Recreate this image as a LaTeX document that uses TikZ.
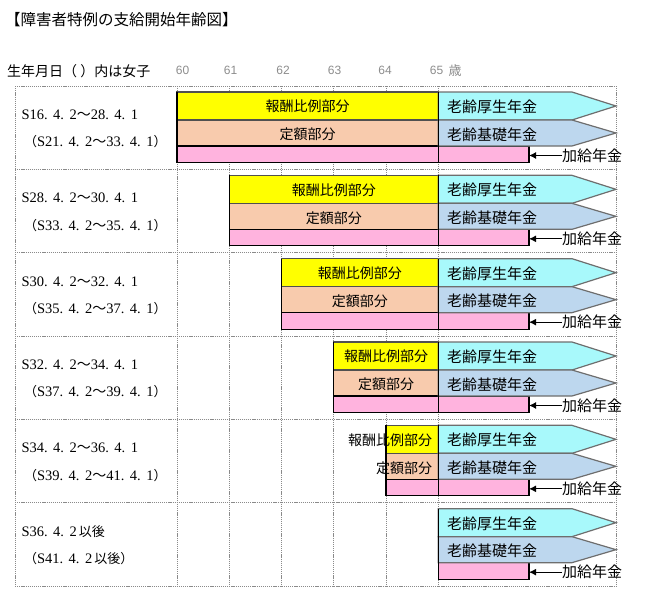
\documentclass[tikz,border=0pt]{standalone}
\usepackage{fontspec}
\setmainfont{Noto Sans CJK JP}
\newfontfamily\latf{Liberation Sans}
\newfontfamily\serf{Liberation Serif}
\usetikzlibrary{arrows.meta}
\definecolor{yel}{HTML}{FFFF00}
\definecolor{pea}{HTML}{F8CBAD}
\definecolor{pnk}{HTML}{FFB3DE}
\definecolor{cya}{HTML}{A8F9FB}
\definecolor{blu}{HTML}{BDD7EE}
\definecolor{gridc}{HTML}{8A8A8A}
\definecolor{numc}{HTML}{8C8C8C}
\definecolor{barline}{HTML}{505050}
\definecolor{pentline}{HTML}{6E6E6E}
\newcommand\pdt{{\serf .}\hspace{5.5pt}}
\newcommand\tld{{\fontsize{14}{14}\selectfont ～}}
\newcommand\dl[6]{{\serf S#1}\pdt{\serf #2}\pdt{\serf #3}\tld{\serf #4}\pdt{\serf #5}\pdt{\serf #6}}
\tikzset{
  gridline/.style={draw=gridc, line width=0.8pt, dash pattern=on 1.2pt off 0.9pt},
  txt/.style={inner sep=0pt, outer sep=0pt, font=\fontsize{14}{14}\selectfont},
  ptxt/.style={inner sep=0pt, outer sep=0pt, anchor=west, font=\fontsize{15}{15}\selectfont},
  lab/.style={inner sep=0pt, outer sep=0pt, anchor=west, font=\fontsize{14.5}{15}\selectfont},
  yearlab/.style={inner sep=0pt, text=numc, font=\latf\fontsize{12}{12}\selectfont},
  ybar/.style={fill=yel, draw=barline, line width=1.2pt},
  pbar/.style={fill=pea, draw=barline, line width=1.2pt},
  pinkbar/.style={fill=pnk, draw=black, line width=1.2pt, inner sep=0pt, outer sep=0pt, anchor=north west, minimum height=16.5pt},
  cpent/.style={fill=cya, draw=pentline, line width=1.2pt, line join=miter},
  bpent/.style={fill=blu, draw=pentline, line width=1.2pt, line join=miter},
  arr/.style={-{Latex[length=7pt,width=7pt]}, line width=1.2pt, black}
}
\begin{document}
\begin{tikzpicture}[x=1pt,y=-1pt]
\useasboundingbox (0,0) rectangle (653,610);
% title and header
\node[anchor=west, inner sep=0pt, font=\fontsize{15.5}{16}\selectfont] (title) at (5,19.3) {【障害者特例の支給開始年齢図】};
\node[anchor=west, inner sep=0pt, font=\fontsize{14}{14}\selectfont] (hdr) at (7,71) {生年月日（ ）内は女子};
\node[yearlab] (y60) at (182.5,70.5) {60};
\node[yearlab] (y61) at (230.5,70.5) {61};
\node[yearlab] (y62) at (283,70.5) {62};
\node[yearlab] (y63) at (334.5,70.5) {63};
\node[yearlab] (y64) at (385,70.5) {64};
\node[yearlab] (y65) at (436.5,70.5) {65};
\node[inner sep=0pt, text=numc, font=\fontsize{13}{13}\selectfont] (sai) at (455,70.5) {歳};
% grid
\foreach \r in {0,...,6} {
  \pgfmathsetmacro\yy{86+83.333*\r}
  \draw[gridline] (15,\yy) -- (616,\yy);
}
\foreach \xx in {15,177,229.3,281.5,333.8,386,438.3,616} {
  \draw[gridline] (\xx,86) -- (\xx,586);
}
% rows 1-5
\foreach \k/\a/\b/\c/\d in {1/16/28/21/33, 2/28/30/33/35, 3/30/32/35/37, 4/32/34/37/39, 5/34/36/39/41} {
  \pgfmathsetmacro\T{86+83.333*(\k-1)}
  \pgfmathsetmacro\S{177+52.26*(\k-1)}
  \pgfmathsetmacro\W{529-\S}
  \pgfmathsetmacro\M{(\S+438.3)/2}
  \draw[ybar] (\S,\T+6) rectangle (438.3,\T+34);
  \draw[pbar] (\S,\T+34) rectangle (438.3,\T+60);
  \node[pinkbar, minimum width=\W pt] (pk\k) at (\S,\T+60) {};
  \draw[cpent] (438.3,\T+6) -- (572,\T+6) -- (616,\T+20) -- (572,\T+34) -- (438.3,\T+34) -- cycle;
  \draw[bpent] (438.3,\T+34) -- (572,\T+34) -- (616,\T+47) -- (572,\T+60) -- (438.3,\T+60) -- cycle;
  \draw[black, line width=1.2pt] (\S,\T+6) -- (\S,\T+76.5);
  \draw[black, line width=1.2pt] (438.3,\T+6) -- (438.3,\T+76.5);
  \ifnum\k<5
    \node[txt] (ho\k) at (\M,\T+20.7) {報酬比例部分};
    \node[txt] (te\k) at (\M,\T+48.5) {定額部分};
  \else
    \node[txt, anchor=east] (ho\k) at (432,\T+20.7) {報酬比例部分};
    \node[txt, anchor=east] (te\k) at (432,\T+48.5) {定額部分};
  \fi
  \node[ptxt] (ko\k) at (447,\T+20.7) {老齢厚生年金};
  \node[ptxt] (ki\k) at (447,\T+48.5) {老齢基礎年金};
  \node[ptxt] (ka\k) at (562,\T+69.5) {加給年金};
  \draw[arr] (ka\k.west) -- (pk\k.east |- ka\k.west);
  \node[lab] (la\k) at (21.5,\T+28.7) {\dl{\a}{4}{2}{\b}{4}{1}};
  \node[lab] (lb\k) at (24,\T+56) {{\fontsize{13}{13}\selectfont （}\dl{\c}{4}{2}{\d}{4}{1}{\fontsize{13}{13}\selectfont ）}};
}
% row 6
\pgfmathsetmacro\T{86+83.333*5}
\node[pinkbar, minimum width=90.7pt] (pk6) at (438.3,\T+60) {};
\draw[cpent] (438.3,\T+6) -- (572,\T+6) -- (616,\T+20) -- (572,\T+34) -- (438.3,\T+34) -- cycle;
\draw[bpent] (438.3,\T+34) -- (572,\T+34) -- (616,\T+47) -- (572,\T+60) -- (438.3,\T+60) -- cycle;
\draw[black, line width=1.2pt] (438.3,\T+6) -- (438.3,\T+76.5);
\node[ptxt] (ko6) at (447,\T+20.7) {老齢厚生年金};
\node[ptxt] (ki6) at (447,\T+48.5) {老齢基礎年金};
\node[ptxt] (ka6) at (562,\T+69.5) {加給年金};
\draw[arr] (ka6.west) -- (pk6.east |- ka6.west);
\node[lab] (la6) at (21.5,\T+28.7) {{\serf S36}\pdt{\serf 4}\pdt{\serf 2}\hspace{2pt}{\fontsize{13}{13}\selectfont 以後}};
\node[lab] (lb6) at (24,\T+56) {{\fontsize{13}{13}\selectfont （}{\serf S41}\pdt{\serf 4}\pdt{\serf 2}\hspace{2pt}{\fontsize{13}{13}\selectfont 以後）}};
\end{tikzpicture}
\end{document}
